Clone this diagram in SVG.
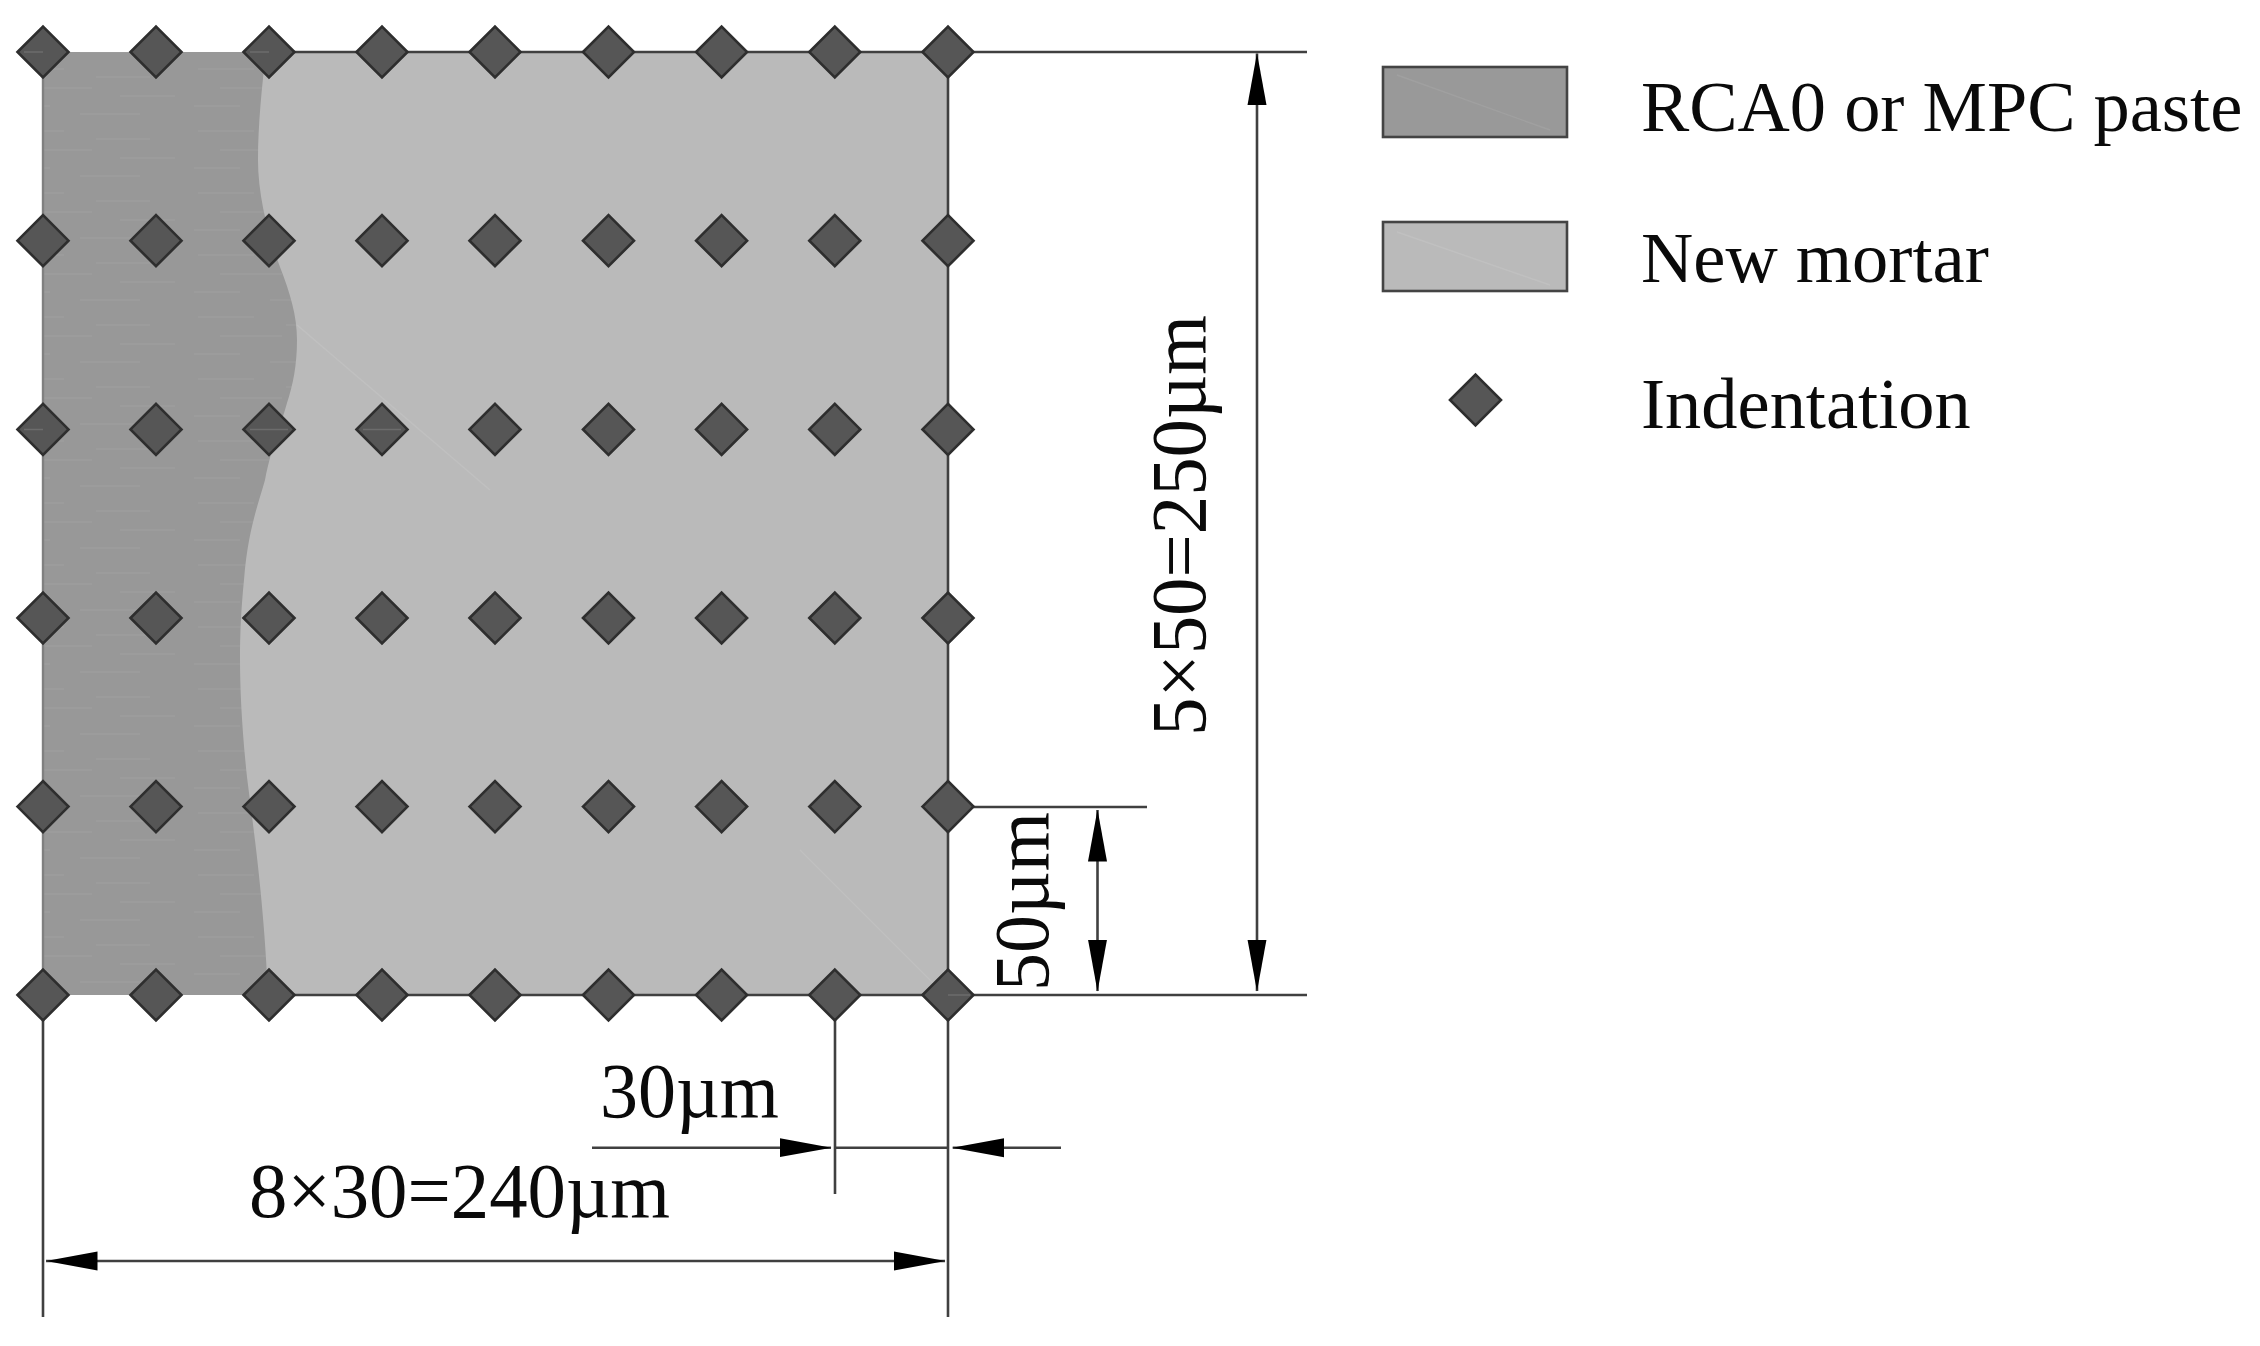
<svg xmlns="http://www.w3.org/2000/svg" width="2260" height="1346" viewBox="0 0 2260 1346">
<style>
.ln{stroke:#404040;stroke-width:2.6;fill:none}
.dk{fill:#999}
.lt{fill:#bababa}
.box{stroke:#444;stroke-width:2.6}
.pt{fill:#565656;stroke:#2e2e2e;stroke-width:2.6;stroke-linejoin:miter}
.fa{stroke:#c0c0c0;stroke-width:1.4;fill:none}
.mk{stroke:#6c6c6c;stroke-width:1.5;fill:none}
text{font-family:"Liberation Serif","Times New Roman",serif;fill:#0a0a0a}
.dim{font-size:78px}
.leg{font-size:72.4px}
</style>
<defs>
<polygon id="d" class="pt" points="-25.5,0 0,-25.5 25.5,0 0,25.5"/>
<marker id="a" markerUnits="userSpaceOnUse" markerWidth="52" markerHeight="20" refX="51.5" refY="10" orient="auto-start-reverse"><path d="M0,0.5 L52,10 L0,19.5 Z" fill="#000"/></marker>
<pattern id="streak" width="190" height="62" patternUnits="userSpaceOnUse"><rect width="190" height="62" fill="#989898"/><path d="M8,7H64M96,15H150M30,26H92M120,34H175M4,44H50M80,52H140" stroke="#9e9e9e" stroke-width="1.6"/></pattern>
</defs>
<rect width="2260" height="1346" fill="#fff"/>
<g id="specimen">
<rect id="mortar" class="lt" x="43" y="52" width="905" height="943"/>
<path id="paste" fill="url(#streak)" d="M43,52 H266 C262,85 258,125 258,160 C258,195 268,235 280,267 C290,293 297,315 297,340 C297,365 293,385 287,403 C281,425 272,445 265,480 C258,505 248,530 244,580 C241,610 240,635 240,659 C240,690 242,730 247,777 C253,825 264,900 268,995 H43 Z"/>
<path class="fa" d="M297,325 L490,490 M800,850 L935,985"/>
</g>
<g id="connectors">
<path stroke="#808080" stroke-width="2.4" fill="none" d="M43,52 V995"/>
<path class="ln" d="M43,995 V1317 M948,52 V1317 M266,52 H1307 M269,995 H1307 M948,807 H1147 M835,995 V1194"/>
<path class="ln" d="M1257,53.5 V991" marker-start="url(#a)" marker-end="url(#a)"/>
<path class="ln" d="M1097.5,810 V991" marker-start="url(#a)" marker-end="url(#a)"/>
<path class="ln" d="M46,1261 H945" marker-start="url(#a)" marker-end="url(#a)"/>
<path class="ln" d="M592,1147.7 H831" marker-end="url(#a)"/>
<path class="ln" d="M1061,1147.7 H952.7" marker-end="url(#a)"/>
<path class="ln" d="M835,1147.7 H948"/>
</g>
<g id="indentations">
<g id="p00"><use href="#d" x="43" y="52"/></g><g id="p01"><use href="#d" x="156" y="52"/></g><g id="p02"><use href="#d" x="269" y="52"/></g><g id="p03"><use href="#d" x="382" y="52"/></g><g id="p04"><use href="#d" x="495" y="52"/></g><g id="p05"><use href="#d" x="608.5" y="52"/></g><g id="p06"><use href="#d" x="721.6" y="52"/></g><g id="p07"><use href="#d" x="834.8" y="52"/></g><g id="p08"><use href="#d" x="948" y="52"/></g>
<g id="p10"><use href="#d" x="43" y="240.7"/></g><g id="p11"><use href="#d" x="156" y="240.7"/></g><g id="p12"><use href="#d" x="269" y="240.7"/></g><g id="p13"><use href="#d" x="382" y="240.7"/></g><g id="p14"><use href="#d" x="495" y="240.7"/></g><g id="p15"><use href="#d" x="608.5" y="240.7"/></g><g id="p16"><use href="#d" x="721.6" y="240.7"/></g><g id="p17"><use href="#d" x="834.8" y="240.7"/></g><g id="p18"><use href="#d" x="948" y="240.7"/></g>
<g id="p20"><use href="#d" x="43" y="429.4"/></g><g id="p21"><use href="#d" x="156" y="429.4"/></g><g id="p22"><use href="#d" x="269" y="429.4"/></g><g id="p23"><use href="#d" x="382" y="429.4"/></g><g id="p24"><use href="#d" x="495" y="429.4"/></g><g id="p25"><use href="#d" x="608.5" y="429.4"/></g><g id="p26"><use href="#d" x="721.6" y="429.4"/></g><g id="p27"><use href="#d" x="834.8" y="429.4"/></g><g id="p28"><use href="#d" x="948" y="429.4"/></g>
<g id="p30"><use href="#d" x="43" y="618"/></g><g id="p31"><use href="#d" x="156" y="618"/></g><g id="p32"><use href="#d" x="269" y="618"/></g><g id="p33"><use href="#d" x="382" y="618"/></g><g id="p34"><use href="#d" x="495" y="618"/></g><g id="p35"><use href="#d" x="608.5" y="618"/></g><g id="p36"><use href="#d" x="721.6" y="618"/></g><g id="p37"><use href="#d" x="834.8" y="618"/></g><g id="p38"><use href="#d" x="948" y="618"/></g>
<g id="p40"><use href="#d" x="43" y="806.6"/></g><g id="p41"><use href="#d" x="156" y="806.6"/></g><g id="p42"><use href="#d" x="269" y="806.6"/></g><g id="p43"><use href="#d" x="382" y="806.6"/></g><g id="p44"><use href="#d" x="495" y="806.6"/></g><g id="p45"><use href="#d" x="608.5" y="806.6"/></g><g id="p46"><use href="#d" x="721.6" y="806.6"/></g><g id="p47"><use href="#d" x="834.8" y="806.6"/></g><g id="p48"><use href="#d" x="948" y="806.6"/></g>
<g id="p50"><use href="#d" x="43" y="995"/></g><g id="p51"><use href="#d" x="156" y="995"/></g><g id="p52"><use href="#d" x="269" y="995"/></g><g id="p53"><use href="#d" x="382" y="995"/></g><g id="p54"><use href="#d" x="495" y="995"/></g><g id="p55"><use href="#d" x="608.5" y="995"/></g><g id="p56"><use href="#d" x="721.6" y="995"/></g><g id="p57"><use href="#d" x="834.8" y="995"/></g><g id="p58"><use href="#d" x="948" y="995"/></g>
<path class="mk" d="M24,52 H43 M250,52 H269 M948,995 H970 M24,429.4 H43 M250,429.4 H288 M363,429.4 H401"/>
</g>
<g id="dimension-labels">
<text class="dim" x="600" y="1117" textLength="179" lengthAdjust="spacingAndGlyphs">30µm</text>
<text class="dim" x="249" y="1216.5" textLength="421" lengthAdjust="spacingAndGlyphs">8×30=240µm</text>
<text class="dim" transform="translate(1205,736) rotate(-90)" textLength="421" lengthAdjust="spacingAndGlyphs">5×50=250µm</text>
<text class="dim" transform="translate(1048,991) rotate(-90)" textLength="179" lengthAdjust="spacingAndGlyphs">50µm</text>
</g>
<g id="legend-paste">
<rect class="dk box" x="1383" y="67" width="184" height="70"/>
<path stroke="#a0a0a0" stroke-width="1.4" fill="none" d="M1397,75 L1550,130"/>
<text class="leg" x="1641" y="131">RCA0 or MPC paste</text>
</g>
<g id="legend-mortar">
<rect class="lt box" x="1383" y="222" width="184" height="69"/>
<path stroke="#c0c0c0" stroke-width="1.4" fill="none" d="M1397,232 L1550,285"/>
<text class="leg" x="1641" y="282">New mortar</text>
</g>
<g id="legend-indentation">
<use href="#d" x="1475.5" y="400"/>
<text class="leg" x="1641" y="428">Indentation</text>
</g>
</svg>
